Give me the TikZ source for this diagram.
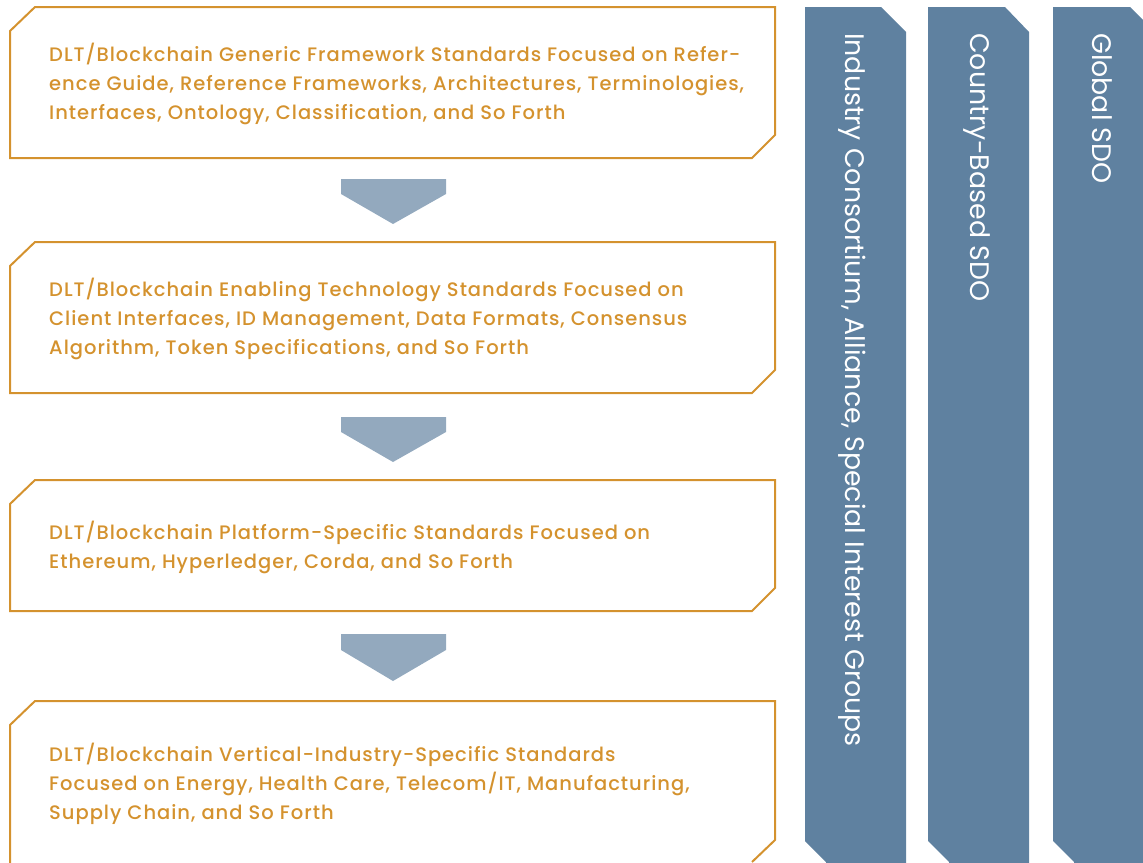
\documentclass[tikz,border=0pt]{standalone}
\usepackage{fontspec}
\setmainfont{Poppins}
\newfontfamily\stdfont{Poppins}[UprightFont=*-Medium, LetterSpace=5]
\definecolor{stdorange}{HTML}{D4922E}
\definecolor{barblue}{HTML}{5F81A0}
\definecolor{arrowblue}{HTML}{93A9BE}
\tikzset{
  stdbox/.style={draw=stdorange, line width=2pt, line join=miter},
  stdtext/.style={anchor=west, text=stdorange, align=left, inner sep=0pt,
    font=\stdfont\fontsize{19.5}{29}\selectfont},
  downarrow/.style={fill=arrowblue},
  sdobar/.style={fill=barblue},
  sdotext/.style={rotate=-90, anchor=west, text=white, inner sep=0pt,
    font=\fontsize{26.8}{30}\selectfont}
}
\begin{document}
\begin{tikzpicture}[x=1pt,y=-1pt]
    \useasboundingbox (0,0) rectangle (1143,862);
    \clip (0,0) rectangle (1143,862);
    % standards boxes
    \draw[stdbox] (10,31) -- (35,7) -- (775,7) -- (775,135) -- (752,158) -- (10,158) -- cycle;
    \draw[stdbox] (10,266) -- (35,242) -- (775,242) -- (775,370) -- (752,393) -- (10,393) -- cycle;
    \draw[stdbox] (10,504) -- (35,480) -- (775,480) -- (775,588) -- (752,611) -- (10,611) -- cycle;
    \draw[stdbox] (10,870) -- (10,725) -- (35,701) -- (775,701) -- (775,840) -- (752,862);
    \node[stdtext] (gen) at (49,84) {DLT/Blockchain Generic Framework Standards Focused on Refer-\\ence Guide, Reference Frameworks, Architectures, Terminologies,\\Interfaces, Ontology, Classification, and So Forth};
    \node[stdtext] (enab) at (49,319) {DLT/Blockchain Enabling Technology Standards Focused on\\Client Interfaces, ID Management, Data Formats, Consensus\\Algorithm, Token Specifications, and So Forth};
    \node[stdtext] (plat) at (49,547) {DLT/Blockchain Platform-Specific Standards Focused on\\Ethereum, Hyperledger, Corda, and So Forth};
    \node[stdtext] (vert) at (49,784) {DLT/Blockchain Vertical-Industry-Specific Standards\\Focused on Energy, Health Care, Telecom/IT, Manufacturing,\\Supply Chain, and So Forth};
    % arrows between boxes
    \fill[downarrow] (341,179) -- (446,179) -- (446,194) -- (393,224) -- (341,194) -- cycle;
    \fill[downarrow] (341,417) -- (446,417) -- (446,432) -- (393,462) -- (341,432) -- cycle;
    \fill[downarrow] (341,634) -- (446,634) -- (446,650) -- (393,681) -- (341,650) -- cycle;
    % SDO bars
    \fill[sdobar] (805,7) -- (881,7) -- (906,32) -- (906,870) -- (826,870) -- (826,862) -- (805,841) -- cycle;
    \fill[sdobar] (928,7) -- (1005,7) -- (1029,32) -- (1029,870) -- (949,870) -- (949,862) -- (928,841) -- cycle;
    \fill[sdobar] (1053,7) -- (1130,7) -- (1155,32) -- (1155,870) -- (1074,870) -- (1074,862) -- (1053,841) -- cycle;
    \node[sdotext] (ind) at (852,33) {Industry Consortium, Alliance, Special Interest Groups};
    \node[sdotext] (ctry) at (977,33) {Country-Based SDO};
    \node[sdotext] (glob) at (1102,33) {Global SDO};
\end{tikzpicture}
\end{document}
